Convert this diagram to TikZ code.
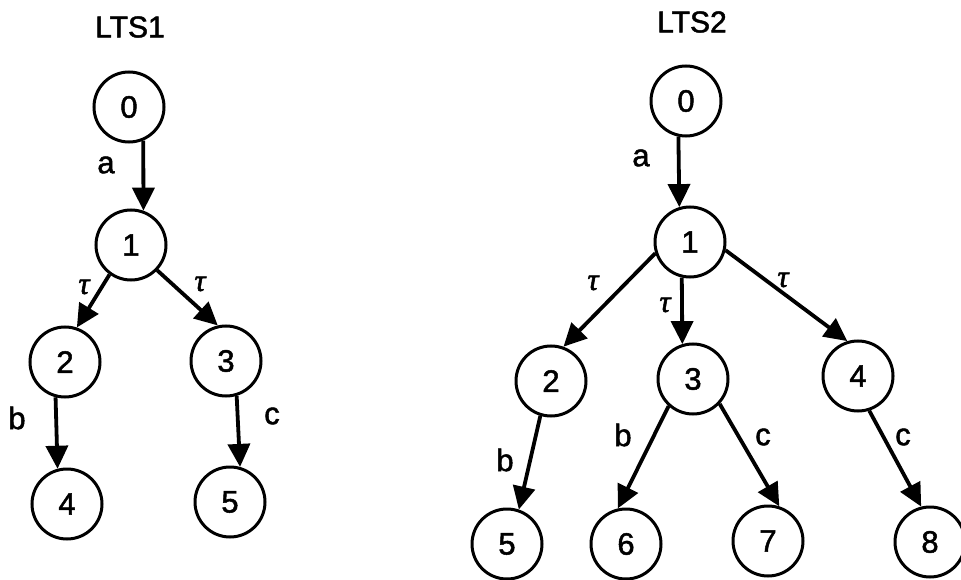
\documentclass[tikz,border=0pt]{standalone}
\usepackage{fontspec}
\setmainfont{Liberation Sans}
\newfontfamily\heavy[FakeBold=1.6]{Liberation Sans}
\newfontfamily\taufont[FakeBold=1.6]{Liberation Serif}
\usetikzlibrary{arrows.meta}
\newcommand{\tr}{{\taufont\itshape τ}}
\begin{document}
\begin{tikzpicture}[x=1pt,y=-1pt,
  state/.style={circle,draw,line width=3pt,minimum size=70pt,inner sep=0pt,
    font=\heavy\fontsize{31}{36}\selectfont},
  trans/.style={line width=3.8pt,-{Triangle[length=23pt,width=22pt]}},
  lbl/.style={font=\heavy\fontsize{31}{36}\selectfont,inner sep=0pt},
  ttl/.style={font=\heavy\fontsize{30}{36}\selectfont,inner sep=0pt}]
\useasboundingbox (0,0) rectangle (961,580);

% ---- LTS1 ----
\node[ttl] (t1) at (130,27) {LTS1};
\node[state] (a0) at (129,107) {0};
\node[state] (a1) at (131,245) {1};
\node[state] (a2) at (65,362) {2};
\node[state] (a3) at (226,361) {3};
\node[state] (a4) at (67,504) {4};
\node[state] (a5) at (230,502) {5};

\draw[trans] (a0.-67) -- (a1.70);
\draw[trans] (a1.-126) -- (a2.71);
\draw[trans] (a1.-44) -- (a3.103);
\draw[trans] (a2.-105) -- (a4.105);
\draw[trans] (a3.-73) -- (a5.74);

\node[lbl] (la1) at (106,165) {a};
\node[lbl] (la2) at (84,287) {\tr};
\node[lbl] (la3) at (200,284) {\tr};
\node[lbl] (la4) at (17,418) {b};
\node[lbl] (la5) at (272,416) {c};

% ---- LTS2 ----
\node[ttl] (t2) at (692,22) {LTS2};
\node[state] (b0) at (686,101) {0};
\node[state] (b1) at (690,242) {1};
\node[state] (b2) at (551,381) {2};
\node[state] (b3) at (693,379) {3};
\node[state] (b4) at (858,376) {4};
\node[state] (b5) at (507,544) {5};
\node[state] (b6) at (626,544) {6};
\node[state] (b7) at (768,541) {7};
\node[state] (b8) at (930,542) {8};

\draw[trans] (b0.-102) -- (b1.107);
\draw[trans] (b1.-162) -- (b2.70);
\draw[trans] (b1.-103) -- (b3.107);
\draw[trans] (b1.-13) -- (b4.107);
\draw[trans] (b2.-107) -- (b5.71);
\draw[trans] (b3.-132) -- (b6.103);
\draw[trans] (b3.-43) -- (b7.72);
\draw[trans] (b4.-72) -- (b8.104);

\node[lbl] (lb1) at (641,158) {a};
\node[lbl] (lb2) at (593,283) {\tr};
\node[lbl] (lb3) at (665,305) {\tr};
\node[lbl] (lb4) at (783,280) {\tr};
\node[lbl] (lb5) at (505,460) {b};
\node[lbl] (lb6) at (623,435) {b};
\node[lbl] (lb7) at (763,437) {c};
\node[lbl] (lb8) at (903,437) {c};
\end{tikzpicture}
\end{document}
